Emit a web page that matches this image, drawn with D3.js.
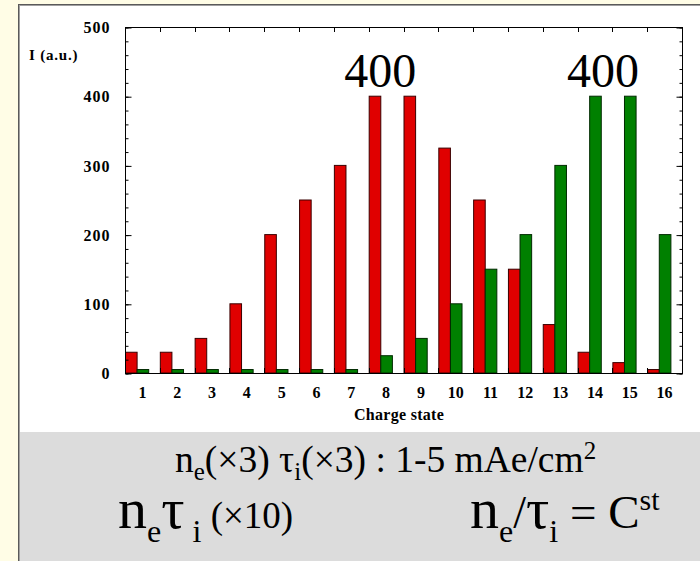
<!DOCTYPE html>
<html><head><meta charset="utf-8">
<script src="https://cdn.jsdelivr.net/npm/d3@7"></script>
<style>
html,body{margin:0;padding:0;background:#fffde6;}
svg{display:block;}
svg text{font-family:"Liberation Serif","Times New Roman",serif;}
</style></head>
<body>
<svg id="c" width="700" height="561"></svg>
<script>
const categories = ["1","2","3","4","5","6","7","8","9","10","11","12","13","14","15","16"];
const redValues   = [30,30,50,100,200,250,300,400,400,325,250,150,70,30,15,5];
const greenValues = [5,5,5,5,5,5,5,25,50,100,150,200,300,400,400,200];
const yTicks = [0,100,200,300,400,500];
const annotations = [{cat:"8", series:"red", text:"400"},{cat:"14", series:"green", text:"400"}];

(function(){
const svg = d3.select("#c");
const W = 700, H = 561;
const serif = '"Liberation Serif","Times New Roman",serif';

svg.append("rect").attr("x",0).attr("y",0).attr("width",W).attr("height",H).attr("fill","#fffde6");
svg.append("rect").attr("x",19).attr("y",5).attr("width",W-19).attr("height",H-5).attr("fill","#ffffff");
svg.append("rect").attr("x",20).attr("y",432).attr("width",W-20).attr("height",H-432).attr("fill","#dcdcdc");
svg.append("line").attr("x1",18.5).attr("x2",18.5).attr("y1",4).attr("y2",H).attr("stroke","#5a5a5a");
svg.append("line").attr("x1",19.5).attr("x2",19.5).attr("y1",5).attr("y2",H).attr("stroke","#a0a0a0");
svg.append("line").attr("x1",18).attr("x2",W).attr("y1",4.5).attr("y2",4.5).attr("stroke","#5a5a5a");
svg.append("line").attr("x1",19).attr("x2",W).attr("y1",5.5).attr("y2",5.5).attr("stroke","#a0a0a0");

const pL = 125, pR = 682, pT = 27, pB = 373;
const x = d3.scaleBand().domain(categories).range([pL,pR]).padding(0);
const y = d3.scaleLinear().domain([0,500]).range([pB,pT]);
const bw = x.bandwidth()/3;

const g = svg.append("g");
g.selectAll("rect.red").data(categories).join("rect").attr("class","red")
  .attr("x",(d)=>x(d)+0.5).attr("y",(d,i)=>y(redValues[i]))
  .attr("width",bw).attr("height",(d,i)=>y(0)-y(redValues[i]))
  .attr("fill","#e00000").attr("stroke","#3a0000").attr("stroke-width",1);
g.selectAll("rect.green").data(categories).join("rect").attr("class","green")
  .attr("x",(d)=>x(d)+bw+0.5).attr("y",(d,i)=>y(greenValues[i]))
  .attr("width",bw).attr("height",(d,i)=>y(0)-y(greenValues[i]))
  .attr("fill","#008000").attr("stroke","#002a00").attr("stroke-width",1);

svg.append("rect").attr("x",pL+0.5).attr("y",pT+0.5).attr("width",pR-pL).attr("height",pB-pT)
  .attr("fill","none").attr("stroke","#000").attr("stroke-width",1);

const minor = d3.range(0,501,20);
const la = svg.append("g").attr("transform",`translate(${pL+0.5},0.5)`)
  .call(d3.axisLeft(y).tickValues(yTicks).tickSize(-6).tickSizeOuter(0).tickPadding(15).tickFormat(d3.format("d")));
la.select(".domain").remove();
la.attr("font-family",null);
la.selectAll("text").style("font-family",serif).attr("font-weight","bold").attr("font-size","16px")
  .attr("letter-spacing","1px").attr("fill","#000");
const lm = svg.append("g").attr("transform",`translate(${pL+0.5},0.5)`)
  .call(d3.axisLeft(y).tickValues(minor).tickSize(-3).tickSizeOuter(0).tickFormat(""));
lm.select(".domain").remove();
const ra = svg.append("g").attr("transform",`translate(${pR+0.5},0.5)`)
  .call(d3.axisRight(y).tickValues(yTicks).tickSize(-6).tickSizeOuter(0).tickFormat(""));
ra.select(".domain").remove();
const rm = svg.append("g").attr("transform",`translate(${pR+0.5},0.5)`)
  .call(d3.axisRight(y).tickValues(minor).tickSize(-3).tickSizeOuter(0).tickFormat(""));
rm.select(".domain").remove();
const bounds = categories.slice(1).map(c=>x(c));
svg.append("g").selectAll("line").data(bounds).join("line")
  .attr("x1",d=>Math.round(d)+0.5).attr("x2",d=>Math.round(d)+0.5).attr("y1",pT).attr("y2",pT+5)
  .attr("stroke","#000");
svg.append("g").selectAll("line").data(bounds).join("line")
  .attr("x1",d=>Math.round(d)+0.5).attr("x2",d=>Math.round(d)+0.5).attr("y1",pB).attr("y2",pB-5)
  .attr("stroke","#000");

const ba = svg.append("g").attr("transform",`translate(0,${pB+0.5})`)
  .call(d3.axisBottom(x).tickSize(0).tickPadding(13));
ba.select(".domain").remove();
ba.attr("font-family",null);
ba.selectAll("text").style("font-family",serif).attr("font-weight","bold").attr("font-size","16px").attr("fill","#000");

svg.append("text").attr("x",399).attr("y",420).attr("text-anchor","middle").style("font-family",serif)
  .attr("font-weight","bold").attr("font-size","16px").attr("letter-spacing","0.3px").text("Charge state");
svg.append("text").attr("x",29).attr("y",60).style("font-family",serif)
  .attr("font-weight","bold").attr("font-size","15px").attr("letter-spacing","0.8px").text("I (a.u.)");

svg.append("g").selectAll("text").data(annotations).join("text")
  .attr("x",d=>x(d.cat)+ (d.series==="red"? bw : 2.2*bw))
  .attr("y",87).attr("text-anchor","middle").style("font-family",serif)
  .attr("font-size","48px").text(d=>d.text);

const f1 = svg.append("text").attr("x",175).attr("y",472).style("font-family",serif)
  .attr("font-size","37.5px").attr("fill","#000");
f1.append("tspan").text("n");
f1.append("tspan").attr("dy",8).attr("font-size","25px").text("e");
f1.append("tspan").attr("dy",-8).text("(×3) τ");
f1.append("tspan").attr("dy",8).attr("font-size","25px").text("i");
f1.append("tspan").attr("dy",-8).text("(×3) : 1-5 mAe/cm");
f1.append("tspan").attr("dy",-13).attr("font-size","25px").text("2");

const f2 = svg.append("text").attr("x",118).attr("y",528).style("font-family",serif)
  .attr("font-size","58px").attr("fill","#000");
f2.append("tspan").text("n");
f2.append("tspan").attr("dy",14).attr("font-size","32px").text("e");
f2.append("tspan").attr("dy",-14).text("τ");
f2.append("tspan").attr("dy",14).attr("font-size","32px").text(" i");
f2.append("tspan").attr("dy",-14).attr("font-size","37px").text(" (×10)");

const f3 = svg.append("text").attr("x",470).attr("y",528).style("font-family",serif)
  .attr("font-size","58px").attr("fill","#000");
f3.append("tspan").text("n");
f3.append("tspan").attr("dy",14).attr("font-size","32px").text("e");
f3.append("tspan").attr("dy",-14).attr("font-size","46px").text("/");
f3.append("tspan").text("τ");
f3.append("tspan").attr("dy",14).attr("font-size","32px").text("i");
f3.append("tspan").attr("dy",-14).attr("font-size","47px").text(" = C");
f3.append("tspan").attr("dy",-18).attr("font-size","30px").text("st");
})();
</script>
</body></html>
